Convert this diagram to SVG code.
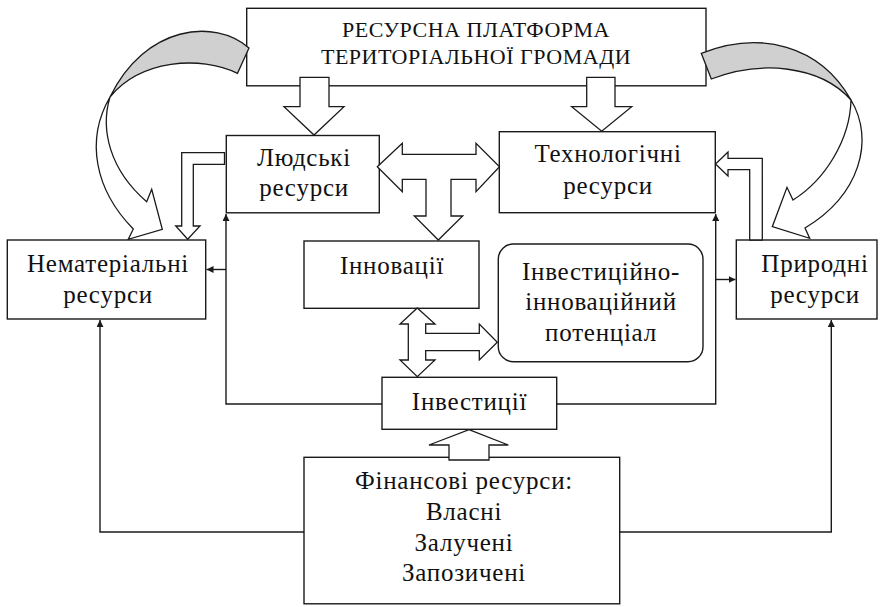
<svg xmlns="http://www.w3.org/2000/svg" width="883" height="607" viewBox="0 0 883 607">
  <defs>
    <style>
      .box { fill: #fff; stroke: #1a1a1a; stroke-width: 1.4; }
      .blk { fill: #fff; stroke: #1a1a1a; stroke-width: 1.3; stroke-linejoin: miter; }
      .grey { fill: #d0d0d0; stroke: #1a1a1a; stroke-width: 1.3; }
      .ln { fill: none; stroke: #1a1a1a; stroke-width: 1.4; }
      .t { font-family: "Liberation Serif", "Times New Roman", serif; font-size: 25px; letter-spacing: 0.75px; fill: #111; text-anchor: middle; }
      .tt { font-family: "Liberation Serif", "Times New Roman", serif; font-size: 22px; letter-spacing: 0.5px; fill: #111; text-anchor: middle; }
    </style>
    <marker id="ah" viewBox="0 0 10 10" refX="10" refY="5" markerWidth="7" markerHeight="7" markerUnits="userSpaceOnUse" orient="auto">
      <path d="M0,0 L10,5 L0,10 Z" fill="#1a1a1a"/>
    </marker>
  </defs>
  <rect width="883" height="607" fill="#fff"/>

  <g id="node-platform">
    <rect class="box" x="246.7" y="8.3" width="459.3" height="77.5"/>
    <text class="tt" x="476" y="37">РЕСУРСНА ПЛАТФОРМА</text>
    <text class="tt" x="476" y="64">ТЕРИТОРІАЛЬНОЇ ГРОМАДИ</text>
  </g>

  <g id="node-human">
    <rect class="box" x="226.3" y="135.5" width="153" height="77.3"/>
    <text class="t" x="304" y="166">Людські</text>
    <text class="t" x="304" y="196">ресурси</text>
  </g>

  <g id="node-tech">
    <rect class="box" x="499.3" y="131.7" width="216" height="81"/>
    <text class="t" x="608" y="162">Технологічні</text>
    <text class="t" x="608" y="193.5">ресурси</text>
  </g>

  <g id="node-intangible">
    <rect class="box" x="7.3" y="240" width="198.4" height="79"/>
    <text class="t" x="108" y="272">Нематеріальні</text>
    <text class="t" x="108" y="303">ресурси</text>
  </g>

  <g id="node-natural">
    <rect class="box" x="736.3" y="240" width="140.7" height="79"/>
    <text class="t" x="815" y="272">Природні</text>
    <text class="t" x="815" y="303">ресурси</text>
  </g>

  <g id="node-innovations">
    <rect class="box" x="304" y="241" width="175" height="67.3"/>
    <text class="t" x="392" y="274">Інновації</text>
  </g>

  <g id="node-potential">
    <rect class="box" x="498.3" y="244" width="204.7" height="117.7" rx="15" ry="15"/>
    <text class="t" x="601" y="279.5">Інвестиційно-</text>
    <text class="t" x="601" y="310">інноваційний</text>
    <text class="t" x="601" y="340.5">потенціал</text>
  </g>

  <g id="node-investments">
    <rect class="box" x="382" y="377.3" width="174.7" height="52"/>
    <text class="t" x="469.5" y="409.5">Інвестиції</text>
  </g>

  <g id="node-finance">
    <rect class="box" x="304" y="457.3" width="315.7" height="146.5"/>
    <text class="t" x="464" y="488.5">Фінансові ресурси:</text>
    <text class="t" x="464" y="520">Власні</text>
    <text class="t" x="464" y="550.5">Залучені</text>
    <text class="t" x="464" y="581">Запозичені</text>
  </g>

  <g id="connectors">
    <path class="ln" d="M382,404 L226,404 L226,214" marker-end="url(#ah)"/>
    <path class="ln" d="M226,269.5 L206.5,269.5" marker-end="url(#ah)"/>
    <path class="ln" d="M556.7,404 L715.7,404 L715.7,214" marker-end="url(#ah)"/>
    <path class="ln" d="M715.7,279.5 L735.5,279.5" marker-end="url(#ah)"/>
    <path class="ln" d="M304,532 L100,532 L100,320" marker-end="url(#ah)"/>
    <path class="ln" d="M619.7,532 L831.3,532 L831.3,320" marker-end="url(#ah)"/>

    <path class="blk" d="M300,77.3 L329,77.3 L329,106.7 L344,106.7 L314,135 L284,106.7 L300,106.7 Z"/>
    <path class="blk" d="M586.7,77.3 L615,77.3 L615,106.7 L631.7,106.7 L601.7,131.2 L571.7,106.7 L586.7,106.7 Z"/>

    <path class="blk" d="M377.3,166.7 L402.3,143.3 L402.3,154.3 L476,154.3 L476,143.3 L499.5,166.7 L476,191.7 L476,179.3 L451,179.3 L451,216 L462.7,216 L438.3,240 L414.3,216 L426,216 L426,179.3 L402.3,179.3 L402.3,191.7 Z"/>

    <path class="blk" d="M417.3,308 L435,324 L425.7,324 L425.7,333.3 L479.3,333.3 L479.3,324 L497.3,342.3 L479.3,360 L479.3,350.7 L425.7,350.7 L425.7,360 L435,360 L417.3,376.7 L400,360 L408.3,360 L408.3,324 L400,324 Z"/>

    <path class="blk" d="M469,429.6 L508.3,445 L489,445 L489,460 L449,460 L449,445 L429,445 Z"/>

    <path class="blk" d="M224.5,152.7 L181.7,152.7 L181.7,226 L175.7,226 L187.7,239.3 L200,226 L193.3,226 L193.3,164.3 L224.5,164.3 Z"/>

    <path class="blk" d="M749.7,240 L749.7,169.7 L728,169.7 L728,176 L715.5,164 L728,152 L728,158.3 L762.3,158.3 L762.3,240 Z"/>

    <path class="grey" d="M249,48 C215,18 145,25 110,97 C140,60 200,55 237.5,73.3 Z"/>
    <path class="blk" d="M110,97 C85,140 95,190 133.3,229 L128.3,239.3 L162.3,229.3 L151.7,189.3 L146.7,201.7 C110,170 100,130 110,97 Z"/>

    <path class="grey" d="M701.3,53.3 C760,30 820,45 851,100 C820,65 760,60 711.3,79 Z"/>
    <path class="blk" d="M851,100 C875,140 860,195 805,228 L809.7,238.3 L772.3,226.7 L787,187.3 L793,200 C825,180 850,140 851,100 Z"/>
  </g>
</svg>
